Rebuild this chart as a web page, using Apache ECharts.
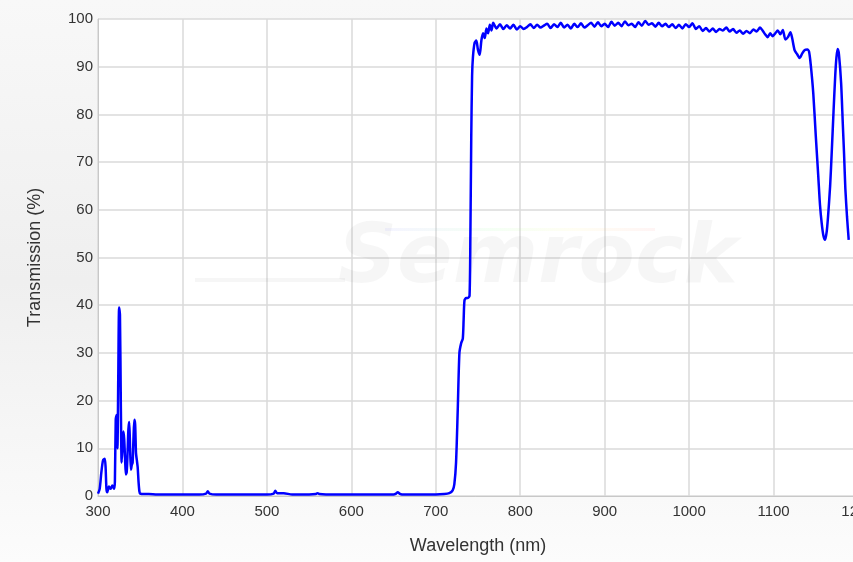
<!DOCTYPE html>
<html>
<head>
<meta charset="utf-8">
<script src="https://cdn.jsdelivr.net/npm/echarts@6/dist/echarts.min.js"></script>
<style>
html,body{margin:0;padding:0;background:#fff;}
#chart{width:853px;height:562px;}
</style>
</head>
<body>
<div id="chart"></div>
<script>
// Wavelength (nm)
const wavelength = [
300,302,304,306,308,309,310,311,313,315,317,319,320,321,322,323,324,325,326,327,328,329,330,331,332,333,334,335,336,337,338,339,340,341,342,343,344,345,346,347,348,349,350,
355,360,370,380,390,400,410,420,428,430,432,440,450,460,470,480,490,500,508,510,512,520,530,540,550,558,560,562,570,580,590,600,610,620,630,640,650,653,655,657,660,670,680,690,700,710,716,
720,722,724,726,728,730,732,733,734,736,738,740,741,742,743,744,746,748,750,752,754,756,758,760,762,764,766,
768,772,776,780,784,788,792,796,800,804,808,812,816,820,824,828,832,836,840,844,848,852,856,860,864,868,872,876,880,884,888,892,896,
900,904,908,912,916,920,924,928,932,936,940,944,948,952,956,960,964,968,972,976,980,984,988,992,996,
1000,1004,1008,1012,1016,1020,1024,1028,1032,1036,1040,1044,1048,1052,1056,1060,1064,1068,1072,1076,1080,1084,1087,1090,1093,1096,1099,
1102,1105,1108,1111,1114,1117,1120,1122,1125,1128,1131,1134,1137,1140,1142,1144,1147,1150,1153,1155,1157,1159,1161,1163,1164.5,1167,1169,1171,1173,1174.5,1176,1177.5,1180,1182,1183.5,1185,1187,1189
];
// Transmission (%)
const transmission = [
0.5,1.5,5,7.5,7.8,6,1.5,0.8,2,1.5,2.2,1.5,3,16,17,10,25,39.5,38,20,7,10,13.5,12,8,4.5,5,9,14,15.5,10,5.5,6.5,7,12,16,15,9,7.5,6,3,1,0.5,
0.4,0.4,0.3,0.3,0.3,0.3,0.3,0.3,0.5,1.0,0.5,0.3,0.3,0.3,0.3,0.3,0.3,0.3,0.5,1.1,0.6,0.6,0.3,0.3,0.3,0.4,0.6,0.4,0.3,0.3,0.3,0.3,0.3,0.3,0.3,0.3,0.3,0.5,0.8,0.5,0.3,0.3,0.3,0.3,0.3,0.4,0.6,
1.2,2.5,7,18,30,32,33,37,41,41.5,41.5,42,55,75,88,92,95,95.5,93.5,92.5,95.5,97,96,98,97,98.8,97.6,
99.2,98.0,98.9,97.9,98.7,98.0,98.8,97.8,98.5,97.9,98.3,98.9,98.1,98.8,98.2,98.6,99.0,98.1,98.9,98.3,99.2,98.2,98.8,98.0,99.0,98.3,99.1,98.2,98.7,99.2,98.4,99.3,98.5,
99.0,98.3,99.4,98.6,99.2,98.5,99.5,98.7,99.0,98.3,99.3,98.6,99.6,98.8,99.1,98.4,99.2,98.5,99.0,98.3,98.9,98.1,98.8,98.0,98.9,
98.3,99.1,97.9,98.5,97.5,98.1,97.4,98.0,97.3,97.9,97.6,98.2,97.4,97.9,97.1,97.6,96.9,97.5,97.0,97.8,97.4,98.2,97.6,96.8,96.2,97.0,96.4,
97.0,97.6,96.8,97.7,95.7,96.2,97.2,96.0,93.4,92.6,91.8,92.8,93.5,93.6,93.2,90.5,84.5,75.5,66.9,61,57.2,54.6,53.7,55.5,58.5,65,72.5,80.5,88,92,93.7,92.5,86.6,78,71.7,64.5,58.5,53.7
];
const xTicks = [300,400,500,600,700,800,900,1000,1100,1200];
const yTicks = [0,10,20,30,40,50,60,70,80,90,100];

const points = wavelength.map((w, i) => [w, transmission[i]]);
const chart = echarts.init(document.getElementById('chart'), null, {renderer: 'canvas'});
const font = '"Liberation Sans", Arial, sans-serif';
chart.setOption({
  animation: false,
  backgroundColor: {
    type: 'linear', x: 0, y: 0, x2: 0, y2: 1,
    colorStops: [{offset: 0, color: '#f8f8f8'}, {offset: 0.5, color: '#efefef'}, {offset: 1, color: '#fcfcfc'}]
  },
  grid: {left: 98, width: 760, top: 19, height: 477, outerBoundsMode: 'none', containLabel: false,
         show: true, backgroundColor: '#ffffff', borderWidth: 0, z: 0},
  graphic: [
    {type: 'text', left: 338, top: 220, z: 1, silent: true,
     style: {text: 'Semrock', fill: 'rgba(0,0,0,0.035)', font: 'italic bold 82px "DejaVu Sans", sans-serif'}},
    {type: 'rect', shape: {x: 195, y: 278, width: 150, height: 4}, z: 1, silent: true, style: {fill: 'rgba(0,0,0,0.035)'}},
    {type: 'rect', shape: {x: 385, y: 228, width: 270, height: 3}, z: 1, silent: true,
     style: {fill: {type: 'linear', x: 0, y: 0, x2: 1, y2: 0,
       colorStops: [{offset: 0, color: 'rgba(120,120,255,0.08)'}, {offset: 0.4, color: 'rgba(120,255,120,0.08)'}, {offset: 0.7, color: 'rgba(255,240,100,0.08)'}, {offset: 1, color: 'rgba(255,120,120,0.08)'}]}}}
  ],
  xAxis: {
    type: 'value', min: 300, max: 1200, interval: 100,
    name: 'Wavelength (nm)', nameLocation: 'middle', nameGap: 41,
    nameTextStyle: {fontFamily: font, fontSize: 18, color: '#333'},
    axisLine: {show: true, lineStyle: {color: '#c8c8c8', width: 1}},
    axisTick: {show: false},
    axisLabel: {fontFamily: font, fontSize: 15, color: '#333', margin: 8, formatter: v => xTicks.includes(v) ? String(v) : ''},
    splitLine: {show: true, lineStyle: {color: '#dadada', width: 1.5}}
  },
  yAxis: {
    type: 'value', min: 0, max: 100, interval: 10,
    name: 'Transmission (%)', nameLocation: 'middle', nameGap: 54, nameRotate: 90,
    nameTextStyle: {fontFamily: font, fontSize: 18, color: '#333'},
    axisLine: {show: true, lineStyle: {color: '#c8c8c8', width: 1}},
    axisTick: {show: false},
    axisLabel: {fontFamily: font, fontSize: 15, color: '#333', margin: 5, formatter: v => yTicks.includes(v) ? String(v) : ''},
    splitLine: {show: true, lineStyle: {color: '#dadada', width: 1.5}}
  },
  series: [{
    type: 'line', data: points, showSymbol: false, smooth: 0.25,
    lineStyle: {color: '#0000ff', width: 2.5}, z: 3
  }]
});
</script>
</body>
</html>
